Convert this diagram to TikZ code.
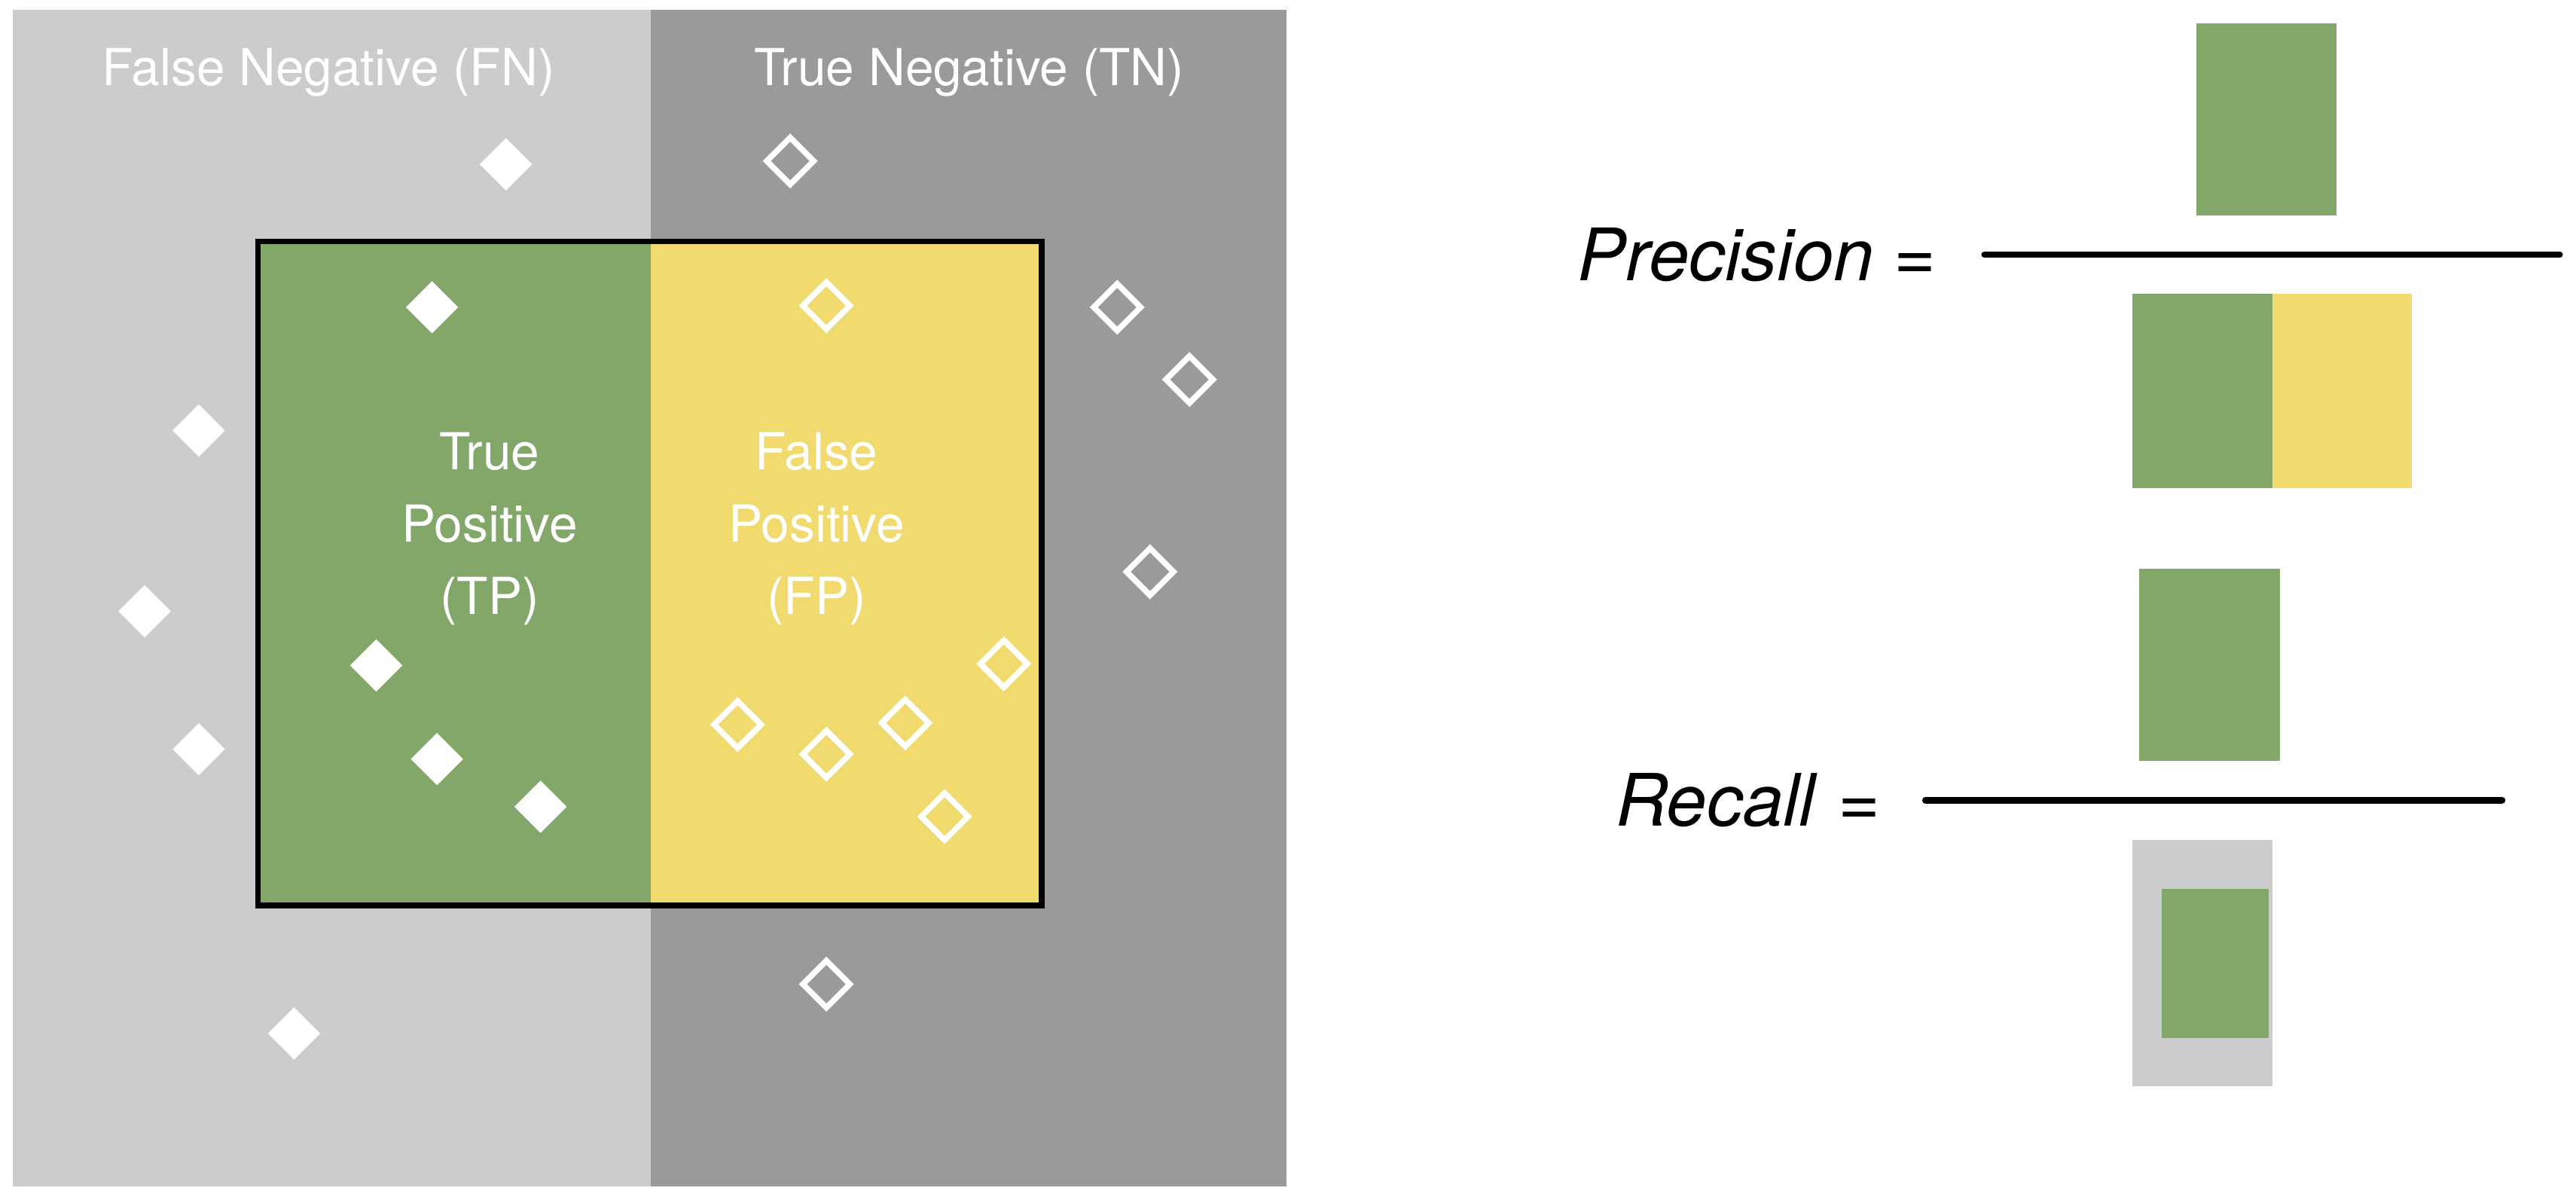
\documentclass[tikz,border=0pt]{standalone}
\usepackage{fontspec}
\setmainfont{TeX Gyre Heros}
\usetikzlibrary{shapes.geometric}
\definecolor{lgray}{HTML}{CCCCCC}
\definecolor{dgray}{HTML}{9A9A9A}
\definecolor{tpgreen}{HTML}{83A769}
\definecolor{fpyellow}{HTML}{F2DB6E}
\begin{document}
\begin{tikzpicture}[x=1pt,y=-1pt,
  fd/.style={diamond,fill=white,inner sep=0pt,minimum size=32pt},
  hd/.style={diamond,draw=white,line width=3.5pt,inner sep=0pt,minimum size=30pt},
  lab/.style={text=white,font=\fontsize{31}{44}\selectfont,align=center},
  eq/.style={font=\fontsize{44}{50}\selectfont},
  frac/.style={line width=4pt,line cap=round}]
\useasboundingbox (0,0) rectangle (1568,730);
\fill[lgray] (8,6) rectangle (396,722);
\fill[dgray] (396,6) rectangle (783,722);
\fill[tpgreen] (157,147) rectangle (396,551);
\fill[fpyellow] (396,147) rectangle (634,551);
\draw[line width=3.5pt] (157,147) rectangle (634,551);
\node[lab] (fn) at (200,44) {False Negative (FN)};
\node[lab] (tn) at (590,44) {True Negative (TN)};
\node[lab] (tp) at (298,322) {True\\Positive\\(TP)};
\node[lab] (fp) at (497,322) {False\\Positive\\(FP)};
\foreach \p [count=\i] in {(308,100),(263,187),(121,262),(88,372),(229,405),(266,462),(329,491),(121,456),(179,629)}
  \node[fd] (f\i) at \p {};
\foreach \p [count=\i] in {(481,98),(503,186),(680,187),(724,231),(700,348),(611,404),(449,441),(503,459),(551,440),(575,497),(503,599)}
  \node[hd] (h\i) at \p {};
% Precision
\node[eq,anchor=east] (prec) at (1182,155) {\textit{Precision} =};
\fill[tpgreen] (1337,14) rectangle (1422,131);
\coordinate (pl1) at (1208,155); \coordinate (pl2) at (1558,155);
\draw[frac] (pl1) -- (pl2);
\fill[tpgreen] (1298,179) rectangle (1383,297);
\fill[fpyellow] (1383,179) rectangle (1468,297);
% Recall
\node[eq,anchor=east] (rec) at (1148,487) {\textit{Recall} =};
\fill[tpgreen] (1302,346) rectangle (1388,463);
\coordinate (rl1) at (1172,487); \coordinate (rl2) at (1523,487);
\draw[frac] (rl1) -- (rl2);
\fill[lgray] (1298,511) rectangle (1383,661);
\fill[tpgreen] (1316,541) rectangle (1381,632);
\end{tikzpicture}
\end{document}
